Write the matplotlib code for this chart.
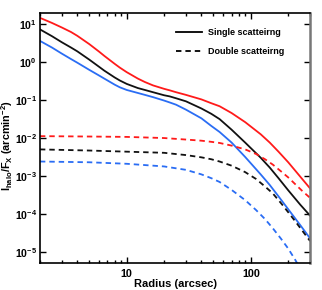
import matplotlib
matplotlib.use("Agg")
import matplotlib.pyplot as plt
from matplotlib.ticker import LogLocator, NullLocator, NullFormatter, FixedLocator
import numpy as np

plt.rcParams['font.family'] = ['Liberation Sans', 'DejaVu Sans']
plt.rcParams['mathtext.fontset'] = 'custom'
plt.rcParams['mathtext.rm'] = 'Liberation Sans:bold'
plt.rcParams['mathtext.bf'] = 'Liberation Sans:bold'
plt.rcParams['mathtext.it'] = 'Liberation Sans:bold'

# radii (arcsec) and log10 of I_halo/F_X
r_single = [2, 2.5, 3, 3.56, 4, 5, 6, 6.6, 8, 8.8, 10, 12.3, 14, 16.3, 20, 22.2, 25, 30, 40, 48, 56,
            70, 90, 120, 142, 167, 200, 250, 300]
single_red = [1.175, 1.04, 0.92, 0.80, 0.70, 0.48, 0.28, 0.17, -0.04, -0.14, -0.26, -0.43, -0.52, -0.61,
              -0.70, -0.74, -0.79, -0.86, -0.98, -1.08, -1.16, -1.34, -1.58, -1.90, -2.12, -2.36, -2.64,
              -3.02, -3.33]
single_black = [0.87, 0.69, 0.53, 0.39, 0.29, 0.07, -0.12, -0.22, -0.40, -0.48, -0.57, -0.68, -0.73,
                -0.79, -0.87, -0.90, -0.95, -1.03, -1.22, -1.36, -1.50, -1.78, -2.12, -2.52, -2.78,
                -3.06, -3.38, -3.76, -4.05]
single_blue = [0.566, 0.39, 0.23, 0.086, -0.01, -0.20, -0.35, -0.43, -0.59, -0.66, -0.73, -0.81, -0.86,
               -0.92, -1.01, -1.06, -1.12, -1.25, -1.48, -1.68, -1.84, -2.12, -2.50, -2.96, -3.24,
               -3.54, -3.88, -4.30, -4.65]

r_double = [2, 5, 10, 20, 30, 40, 48, 56, 70, 90, 110, 130, 150, 175, 200, 228, 260, 300]
double_red = [-1.95, -1.96, -1.97, -2.00, -2.04, -2.07, -2.10, -2.13, -2.20, -2.30, -2.42, -2.56, -2.70,
              -2.88, -3.04, -3.22, -3.40, -3.58]
double_black = [-2.30, -2.33, -2.36, -2.39, -2.45, -2.51, -2.56, -2.62, -2.73, -2.90, -3.08, -3.28,
                -3.46, -3.72, -3.96, -4.20, -4.45, -4.72]
double_blue = [-2.62, -2.64, -2.68, -2.75, -2.84, -2.96, -3.06, -3.16, -3.37, -3.64, -3.90, -4.14,
               -4.38, -4.66, -4.92, -5.22, -5.55, -5.95]

red = '#ff1a1a'
black = '#111111'
blue = '#2a6df4'
dash = (0, (3, 2.2))

fig = plt.figure(figsize=(3.22, 2.90), dpi=100)
ax = fig.add_axes([0.124, 0.093, 0.839, 0.862])

lw = 1.3
for vals, c in [(single_red, red), (single_black, black), (single_blue, blue)]:
    ax.plot(r_single, 10 ** np.array(vals), color=c, lw=lw, solid_joinstyle='round')
for vals, c in [(double_red, red), (double_black, black), (double_blue, blue)]:
    ax.plot(r_double, 10 ** np.array(vals), color=c, lw=lw, ls=dash)

ax.set_xscale('log')
ax.set_yscale('log')
ax.set_xlim(2, 300)
ax.set_ylim(5e-6, 20)

ax.xaxis.set_major_locator(FixedLocator([10, 100]))
ax.xaxis.set_minor_locator(LogLocator(base=10, subs=np.arange(2, 10)))
ax.xaxis.set_minor_formatter(NullFormatter())
ax.yaxis.set_major_locator(LogLocator(base=10, numticks=20))
ax.yaxis.set_minor_locator(NullLocator())
ax.set_xticklabels(['10', '100'])

ax.tick_params(which='both', direction='in', top=True, right=True, width=1.0)
ax.tick_params(axis='x', labelsize=7.8, pad=4)
ax.tick_params(axis='y', labelsize=7.6, pad=2.2)
ax.tick_params(which='major', length=4.5)
ax.tick_params(which='minor', length=2.5)
for lab in ax.get_xticklabels() + ax.get_yticklabels():
    lab.set_fontweight('bold')

for s in ['left', 'bottom', 'top']:
    ax.spines[s].set_linewidth(1.2)
ax.spines['right'].set_color('#777777')
ax.spines['right'].set_linewidth(1.8)

ax.set_xlabel('Radius (arcsec)', fontsize=8, fontweight='bold', labelpad=0.3)
ax.set_ylabel(r'$\mathbf{I_{halo}/F_X}$ (arcmin$^{\mathbf{-2}}$)', fontsize=7.8, fontweight='bold')
ax.yaxis.set_label_coords(-0.093, 0.468)

h1, = ax.plot([], [], color='black', lw=lw, label='Single scatteirng')
h2, = ax.plot([], [], color='black', lw=lw, ls=dash, label='Double scatteirng')
ax.legend(handles=[h1, h2], loc='upper left', frameon=False,
          handlelength=2.9, handletextpad=0.66, labelspacing=1.15,
          borderpad=0, borderaxespad=0,
          bbox_to_anchor=(0.504, 0.94), prop={'weight': 'bold', 'size': 6.5})

fig.savefig('out.png', dpi=100)
